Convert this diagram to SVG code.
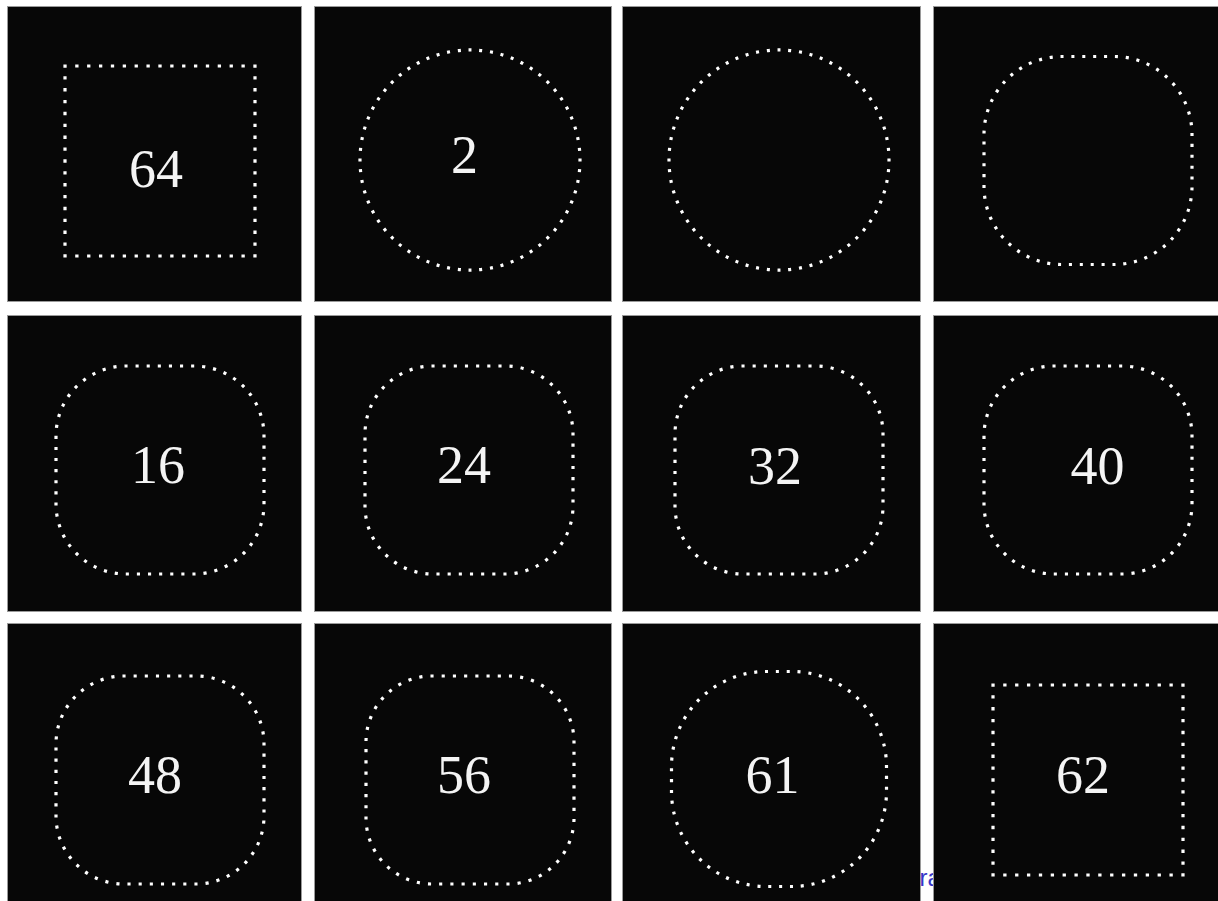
<svg xmlns="http://www.w3.org/2000/svg" width="1218" height="901" viewBox="0 0 1218 901">
<style>
.bg{fill:#070707;stroke:#9a9a9a;stroke-width:1}
.dots{fill:none;stroke:#ffffff;stroke-width:3.2;stroke-dasharray:0.28 0.72;stroke-dashoffset:0.14}
.num{font-family:"Liberation Serif","Times New Roman",serif;font-size:54px;fill:#f4f4f4;text-anchor:middle}
.note{font-family:"Liberation Sans",Arial,sans-serif;font-size:24px;fill:#3535c8}
</style>
<rect width="1218" height="901" fill="#ffffff"/>
<text class="note" x="919.5" y="886">ra</text>

<g id="panel-64">
<rect class="bg" x="7.5" y="6.5" width="294" height="295"/>
<path class="dots" pathLength="64" d="M65,66 H255 V256 H65 Z"/>
<text class="num" x="156" y="187">64</text>
</g>

<g id="panel-2">
<rect class="bg" x="314.5" y="6.5" width="297" height="295"/>
<path class="dots" pathLength="64" d="M360,160 A110,110 0 1 1 580,160 A110,110 0 1 1 360,160 Z"/>
<text class="num" x="464.5" y="173">2</text>
</g>

<g id="panel-blank-a">
<rect class="bg" x="622.5" y="6.5" width="298" height="295"/>
<path class="dots" pathLength="64" d="M669,160 A110,110 0 1 1 889,160 A110,110 0 1 1 669,160 Z"/>
</g>

<g id="panel-blank-b">
<rect class="bg" x="933.5" y="6.5" width="290" height="295"/>
<g transform="translate(1088,160.5)">
<path class="dots" pathLength="64" d="M-26,-104 H26 A78,78 0 0 1 104,-26 V26 A78,78 0 0 1 26,104 H-26 A78,78 0 0 1 -104,26 V-26 A78,78 0 0 1 -26,-104 Z"/>
</g>
</g>

<g id="panel-16">
<rect class="bg" x="7.5" y="315.5" width="294" height="296"/>
<g transform="translate(160,470)">
<path class="dots" pathLength="64" d="M-34,-104 H34 A70,70 0 0 1 104,-34 V34 A70,70 0 0 1 34,104 H-34 A70,70 0 0 1 -104,34 V-34 A70,70 0 0 1 -34,-104 Z"/>
</g>
<text class="num" x="158" y="483">16</text>
</g>

<g id="panel-24">
<rect class="bg" x="314.5" y="315.5" width="297" height="296"/>
<g transform="translate(469,470)">
<path class="dots" pathLength="64" d="M-36,-104 H36 A68,68 0 0 1 104,-36 V36 A68,68 0 0 1 36,104 H-36 A68,68 0 0 1 -104,36 V-36 A68,68 0 0 1 -36,-104 Z"/>
</g>
<text class="num" x="464" y="483">24</text>
</g>

<g id="panel-32">
<rect class="bg" x="622.5" y="315.5" width="298" height="296"/>
<g transform="translate(779,470)">
<path class="dots" pathLength="64" d="M-36,-104 H36 A68,68 0 0 1 104,-36 V36 A68,68 0 0 1 36,104 H-36 A68,68 0 0 1 -104,36 V-36 A68,68 0 0 1 -36,-104 Z"/>
</g>
<text class="num" x="775" y="484">32</text>
</g>

<g id="panel-40">
<rect class="bg" x="933.5" y="315.5" width="290" height="296"/>
<g transform="translate(1088,470)">
<path class="dots" pathLength="64" d="M-34,-104 H34 A70,70 0 0 1 104,-34 V34 A70,70 0 0 1 34,104 H-34 A70,70 0 0 1 -104,34 V-34 A70,70 0 0 1 -34,-104 Z"/>
</g>
<text class="num" x="1097.5" y="484">40</text>
</g>

<g id="panel-48">
<rect class="bg" x="7.5" y="623.5" width="294" height="285"/>
<g transform="translate(160,780)">
<path class="dots" pathLength="64" d="M-36,-104 H36 A68,68 0 0 1 104,-36 V36 A68,68 0 0 1 36,104 H-36 A68,68 0 0 1 -104,36 V-36 A68,68 0 0 1 -36,-104 Z"/>
</g>
<text class="num" x="155" y="793">48</text>
</g>

<g id="panel-56">
<rect class="bg" x="314.5" y="623.5" width="297" height="285"/>
<g transform="translate(470,780)">
<path class="dots" pathLength="64" d="M-38,-104 H38 A66,66 0 0 1 104,-38 V38 A66,66 0 0 1 38,104 H-38 A66,66 0 0 1 -104,38 V-38 A66,66 0 0 1 -38,-104 Z"/>
</g>
<text class="num" x="464" y="793">56</text>
</g>

<g id="panel-61">
<rect class="bg" x="622.5" y="623.5" width="298" height="285"/>
<g transform="translate(779,779)">
<path class="dots" pathLength="64" d="M-12.5,-107.5 H12.5 A95,95 0 0 1 107.5,-12.5 V12.5 A95,95 0 0 1 12.5,107.5 H-12.5 A95,95 0 0 1 -107.5,12.5 V-12.5 A95,95 0 0 1 -12.5,-107.5 Z"/>
</g>
<text class="num" x="772.5" y="793">61</text>
</g>

<g id="panel-62">
<rect class="bg" x="933.5" y="623.5" width="290" height="285"/>
<path class="dots" pathLength="64" d="M993,685 H1183 V875 H993 Z"/>
<text class="num" x="1083" y="793">62</text>
</g>
</svg>
